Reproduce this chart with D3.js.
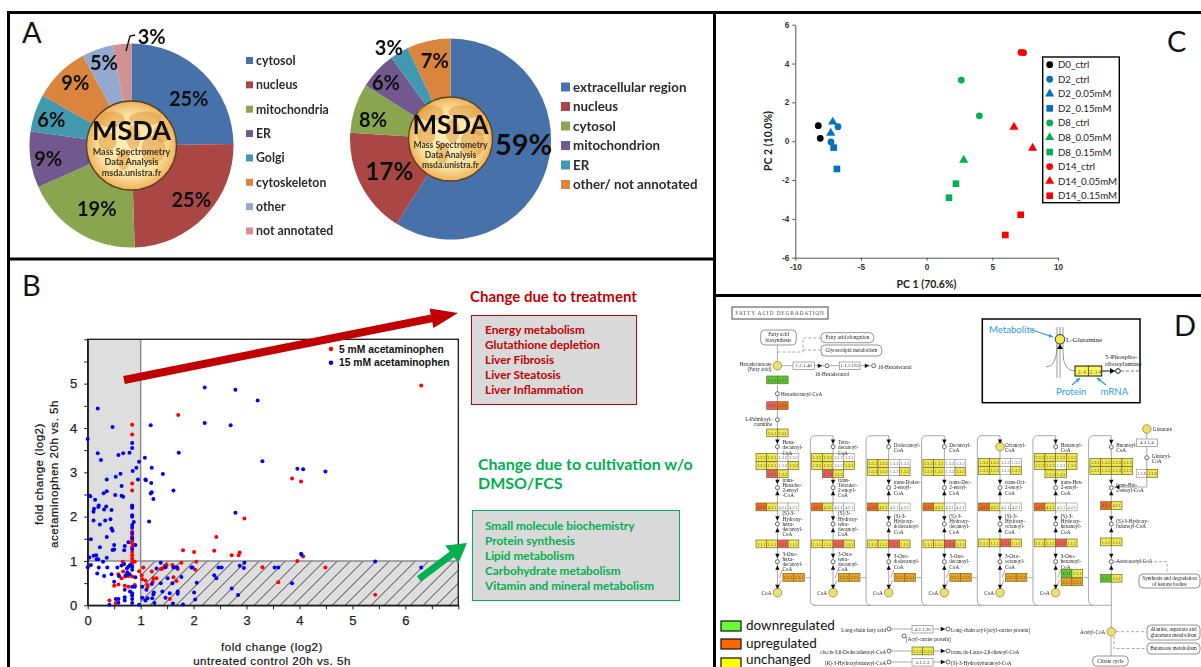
<!DOCTYPE html>
<html><head><meta charset="utf-8">
<script src="https://cdnjs.cloudflare.com/ajax/libs/d3/7.8.5/d3.min.js"></script>
<style>
html,body{margin:0;padding:0;background:#fff}
svg{display:block}
text{font-family:Lato,"Open Sans",sans-serif}
.ax text{font-family:"Liberation Sans",Arial,sans-serif}
.serif text{font-family:"Liberation Serif",serif}
</style></head><body>
<svg id="c" width="1201" height="667" viewBox="0 0 1201 667"></svg>
<script>
// ---------- DATA ----------
const pieACategories=["cytosol","nucleus","mitochondria","ER","Golgi","cytoskeleton","other","not annotated"];
const pieAValues=[25,25,19,9,6,9,5,3];
const pieAColors=["#4672A9","#AA4644","#89A54E","#71588F","#4298AF","#DB843D","#93A9CF","#D19392"];
const pieBCategories=["extracellular region","nucleus","cytosol","mitochondrion","ER","other/ not annotated"];
const pieBValues=[59,17,8,6,3,7];
const pieBColors=["#4672A9","#AA4644","#89A54E","#71588F","#4298AF","#DB843D"];

const scatterRed=[[6.30,4.96],[1.71,4.29],[.84,4.07],[.84,3.85],[.84,2.75],[.84,2.59],[.84,2.22],[3.86,2.86],[4.03,2.79],[2.96,1.96],[2.43,1.54],[1.80,1.24],[2.01,1.20],[2.39,1.23],[2.72,1.13],[2.85,1.13],[2.87,1.19],[4.07,1.10],[3.96,1.0],[4.49,.85],[3.60,.52],[5.43,.24],[3.30,.86],[2.03,.80],[2.05,.98],[1.77,.96],[1.70,.82],[1.68,.55],[1.62,.63],[1.60,.91],[1.55,.14],[1.49,.91],[1.46,.89],[1.38,.82],[1.41,.83],[1.21,.76],[1.24,.61],[1.30,.61],[1.23,.53],[1.05,.85],[.97,.77],[1.02,.68],[1.03,.59],[1.09,.56],[1.13,.46],[1.13,.42],[.89,.98],[.66,.98],[.84,1.66],[.84,1.55],[.84,1.46],[.84,1.40],[.84,1.32],[.84,1.2],[.84,1.13],[.84,1.05],[.84,.97],[.84,.9],[.58,.70],[.50,.44],[.58,.47],[.41,.11],[.53,.05],[.64,.61],[.67,.76],[.71,.65],[.77,.66],[.70,.44],[.77,.42],[.84,.65],[.89,.46]];
const scatterBlue=[[2.21,4.91],[2.79,4.86],[3.21,4.62],[2.21,4.11],[2.70,4.06],[1.19,4.06],[.19,4.44],[.47,4.02],[0,3.75],[.84,3.66],[.84,3.55],[.19,3.43],[.25,3.28],[.58,3.39],[.67,3.43],[.79,3.44],[.97,3.24],[1.08,3.33],[1.72,3.44],[3.30,3.25],[3.96,3.08],[4.07,3.07],[4.49,3.02],[.92,3.10],[1.21,3.10],[1.42,2.96],[.85,3.03],[.62,2.97],[.53,2.90],[.36,2.84],[.95,2.84],[1.09,2.84],[1.10,2.82],[1.20,2.76],[.64,2.69],[1.62,2.59],[1.21,2.55],[1.19,2.52],[1.24,2.40],[.30,2.53],[.36,2.57],[.03,2.47],[.05,2.46],[.52,2.49],[.64,2.47],[.67,2.45],[.14,2.38],[.21,2.25],[.2,2.22],[.12,2.18],[.11,2.11],[.35,2.23],[.31,2.16],[.45,2.15],[.84,2.25],[.84,2.20],[.84,2.03],[.84,2.0],[2.79,2.09],[.11,1.91],[.33,1.91],[.43,1.94],[.23,1.82],[.87,1.88],[1.16,1.89],[.84,1.81],[.84,1.75],[.45,1.73],[.47,1.68],[.84,1.62],[.84,1.51],[.36,1.54],[.06,1.49],[.77,1.42],[.50,1.36],[.70,1.34],[.90,1.36],[.23,1.31],[.47,1.25],[.50,1.26],[.69,1.24],[.84,1.27],[.03,1.08],[.11,1.12],[.16,1.13],[.36,1.07],[.17,1.04],[.2,1.04],[.29,.98],[5.43,.99],[4.03,1.16],[4.04,1.14],[6.30,.85],[1.38,.96],[2.96,.96],[2.87,.89],[2.95,.84],[2.47,.85],[2.53,.85],[1.96,.85],[1.98,.85],[3.53,.85],[3.60,.85],[2.39,.68],[2.43,.61],[2.72,.38],[2.84,.23],[3.86,.50],[2.06,.51],[2.01,.29],[2.03,.13],[1.62,.85],[1.69,.85],[1.65,.86],[1.30,.83],[1.47,.86],[1.77,.64],[1.51,.61],[1.60,.50],[1.38,.50],[1.21,.48],[1.03,.42],[1.11,.35],[1.41,.31],[1.25,.29],[1.24,.25],[1.70,.31],[1.70,.26],[1.47,.17],[1.55,.27],[1.22,.16],[1.13,.16],[1.09,.11],[1.03,.17],[1.26,.05],[1.61,.04],[1.80,.02],[.97,.01],[0,.86],[.06,.91],[.21,.85],[.37,.85],[.56,.85],[.64,.90],[.18,.72],[.31,.66],[.45,.70],[.5,.53],[.59,.66],[.69,.93],[.74,.83],[.77,.87],[.80,.91],[.75,.74],[.79,.70],[.72,.68],[.84,.87],[.84,.80],[.90,.63],[.70,.35],[.80,.31],[.84,.27],[.84,.42],[.89,.42],[.84,.22],[.84,.14],[.70,.18],[.70,.11],[.84,.05],[.53,.14],[.58,.14],[.58,.06],[.41,.01]];
const scatterLegend=["5 mM acetaminophen","15 mM acetaminophen"];
const treatmentTerms=["Energy metabolism","Glutathione depletion","Liver Fibrosis","Liver Steatosis","Liver Inflammation"];
const cultivationTerms=["Small molecule biochemistry","Protein synthesis","Lipid metabolism","Carbohydrate metabolism","Vitamin and mineral metabolism"];

const pcaGroups=["D0_ctrl","D2_ctrl","D2_0.05mM","D2_0.15mM","D8_ctrl","D8_0.05mM","D8_0.15mM","D14_ctrl","D14_0.05mM","D14_0.15mM"];
const pcaShapes=["circle","circle","triangle","square","circle","triangle","square","circle","triangle","square"];
const pcaColors=["#000000","#0070C0","#0070C0","#0070C0","#00B050","#00B050","#00B050","#FF0000","#FF0000","#FF0000"];
const pcaPoints=[[[-8.25,.80],[-8.1,.15]],[[-6.75,.75],[-7.28,-.04]],[[-7.15,.99],[-7.3,.42]],[[-7.08,-.33],[-6.83,-1.43]],[[2.64,3.15],[4.01,1.31]],[[2.82,-.97]],[[2.23,-2.19],[1.70,-2.91]],[[7.18,4.57],[7.38,4.56]],[[6.65,.73],[8.07,-.35]],[[7.16,-3.79],[5.99,-4.83]]];

// KEGG pathway: cell state per enzyme box, y=unchanged w=no data r=up(red) o=up(orange) a=amber g=down
const keggOxidase=[["yyww","yywy","ry"],["yyww","yywy","ry"],["yyww","yywy"],["yyww","yywy"],["yyww","yywy"],["yyyy","yywy","yy"],["yyyy","yyyy"]];
const keggHydratase=["oyww","oyww","oyww","oyww","oyww","oyww","oy"];
const keggDehydrogenase=["yyry","yyry","yyry","yyry","yyry","yyry","yy"];
const keggThiolase=[["aa"],["aa"],["aa"],["aa"],["aa"],["gy","aa"],["gy"]];
const keggCoaNames=[["Hexa-","decanoyl-","CoA"],["Tetra-","decanoyl-","CoA"],["Dodecanoyl-","CoA"],["Decanoyl-","CoA"],["Octanoyl-","CoA"],["Hexanoyl-","CoA"],["Butanoyl-","CoA"]];
const keggEnoylNames=[["trans-","Hexadec-","2-enoyl","-CoA"],["trans-","Tetradec-","2-enoyl-","CoA"],["trans-Dodec-","2-enoyl-","CoA"],["trans-Dec-","2-enoyl-","CoA"],["trans-Oct-","2-enoyl-","CoA"],["trans-Hex-","2-enoyl-","CoA"],["trans-But-","2-enoyl-CoA"]];
const keggHydroxyNames=[["(S)-3-","Hydroxy-","hexa-","decanoyl-","CoA"],["(S)-3-","Hydroxy-","tetra-","decanoyl-","CoA"],["(S)-3-","Hydroxy-","dodecanoyl-","CoA"],["(S)-3-","Hydroxy-","decanoyl-","CoA"],["(S)-3-","Hydroxy-","octanoyl-","CoA"],["(S)-3-","Hydroxy-","hexanoyl-","CoA"],["(S)-3-Hydroxy-","butanoyl-CoA"]];
const keggOxoNames=[["3-Oxo-","hexa-","decanoyl-","CoA"],["3-Oxo-","tetra-","decanoyl-","CoA"],["3-Oxo-","dodecanoyl-","CoA"],["3-Oxo-","decanoyl-","CoA"],["3-Oxo-","octanoyl-","CoA"],["3-Oxo-","hexanoyl-","CoA"],["Acetoacetyl-CoA"]];
const keggLegend=["downregulated","upregulated","unchanged"];
const keggLegendColors=["#66FF33","#FF6600","#FFFF00"];

// ---------- SETUP ----------
const svg=d3.select("#c");
const defs=svg.append("defs");
defs.append("filter").attr("id","soft").append("feGaussianBlur").attr("stdDeviation",.45);
defs.append("filter").attr("id","soft2").append("feGaussianBlur").attr("stdDeviation",.3);
const rg=defs.append("radialGradient").attr("id","logoFill");
rg.append("stop").attr("offset","0%").attr("stop-color","#FEEEBE");
rg.append("stop").attr("offset","70%").attr("stop-color","#FCE2A0");
rg.append("stop").attr("offset","100%").attr("stop-color","#EDB259");
const hatch=defs.append("pattern").attr("id","hatch").attr("patternUnits","userSpaceOnUse").attr("width",9.2).attr("height",9.2).attr("patternTransform","rotate(45)");
hatch.append("rect").attr("width",9.2).attr("height",9.2).attr("fill","#DEDEDE");
hatch.append("line").attr("x1",0).attr("x2",0).attr("y1",0).attr("y2",9.2).attr("stroke","#222").attr("stroke-width",1.3);

// panel frames
const frame=[[7,12.5,1201,12.5],[8.5,12,8.5,667],[8,259,714,259],[714.5,12,714.5,667],[714,295.5,1201,295.5]];
svg.append("g").selectAll("line").data(frame).join("line")
 .attr("x1",d=>d[0]).attr("y1",d=>d[1]).attr("x2",d=>d[2]).attr("y2",d=>d[3]).attr("stroke","#000").attr("stroke-width",3);
const panelLetters=[["A",22,43],["B",22,296],["C",1167,52],["D",1174,336]];
svg.append("g").selectAll("text").data(panelLetters).join("text").text(d=>d[0]).attr("x",d=>d[1]).attr("y",d=>d[2]).attr("font-size",29).attr("fill","#111");

// ---------- A: PIES ----------
function drawPie(cfg){
 const g=svg.append("g").attr("transform",`translate(${cfg.cx},${cfg.cy})`).attr("filter","url(#soft2)");
 const slices=d3.pie().sort(null)(cfg.values);
 const arc=d3.arc().innerRadius(0).outerRadius(cfg.r);
 const labelArc=d3.arc().innerRadius(cfg.lr).outerRadius(cfg.lr);
 g.selectAll("path").data(slices).join("path").attr("d",arc).attr("fill",(d,i)=>cfg.colors[i]);
 // logo
 const lg=g.append("g");
 lg.append("ellipse").attr("rx",cfg.lrx).attr("ry",cfg.lry).attr("fill","url(#logoFill)").attr("stroke","#5b4020").attr("stroke-width",1.3);
 const blobs=[[-20,-26,13,8],[14,-27,16,7],[-24,-4,9,9],[22,4,12,14],[-8,14,6,11],[2,-8,7,12],[30,-12,8,9]];
 lg.selectAll("ellipse.b").data(blobs).join("ellipse").attr("class","b")
   .attr("cx",d=>d[0]).attr("cy",d=>d[1]).attr("rx",d=>d[2]).attr("ry",d=>d[3]).attr("fill","#DD9436").attr("opacity",.5);
 lg.append("text").text("MSDA").attr("text-anchor","middle").attr("y",cfg.ty[0]).attr("font-size",cfg.fs).attr("font-weight",700).attr("fill","#0a0a0a");
 [["Mass Spectrometry",cfg.ty[1]],["Data Analysis",cfg.ty[2]],["msda.unistra.fr",cfg.ty[3]]].forEach(t=>
   lg.append("text").text(t[0]).attr("text-anchor","middle").attr("y",t[1]).attr("font-size",cfg.sub).attr("font-weight",700).attr("fill","#3b3426"));
 g.selectAll("text.l").data(slices).join("text").attr("class","l")
  .text(d=>d.data+"%").attr("text-anchor","middle").attr("dominant-baseline","central")
  .attr("x",(d,i)=>labelArc.centroid(d)[0]+cfg.nudge[i][0]).attr("y",(d,i)=>labelArc.centroid(d)[1]+cfg.nudge[i][1])
  .attr("font-size",(d,i)=>cfg.labelFs[i]).attr("font-weight",700).attr("fill","#111");
 return g;
}
drawPie({cx:131.5,cy:145.5,r:102,lr:73,values:pieAValues,colors:pieAColors,lrx:45,lry:44.5,ty:[-6,9.5,19,30],fs:27,sub:9,
 nudge:[[6,5],[7,3],[4,1],[-11,2],[-11,-3],[-5,-11],[-3,-15],[27,-37]],labelFs:[20,20,20,20,20,20,20,20]});
drawPie({cx:450.5,cy:139,r:100.5,lr:72,values:pieBValues,colors:pieBColors,lrx:42,lry:42,ty:[-5.5,9,18.5,28.5],fs:26,sub:8.6,
 nudge:[[4,-16],[3,-1],[-9,2],[-12,-8],[-25,-30],[0,-9]],labelFs:[29,24,20,20,20,20]});
// leader for 3%
svg.append("path").attr("d","M126,51 L130,36 L135,35").attr("fill","none").attr("stroke","#111").attr("stroke-width",1.4);

function pieLegend(cats,cols,x,ys,size,tx,fs){
 const g=svg.append("g").attr("filter","url(#soft2)");
 g.selectAll("rect").data(cats).join("rect").attr("x",x).attr("y",(d,i)=>ys(i)-size/2).attr("width",size).attr("height",size).attr("fill",(d,i)=>cols[i]);
 g.selectAll("text").data(cats).join("text").text(d=>d).attr("x",tx).attr("y",(d,i)=>ys(i)+fs*.35).attr("font-size",fs).attr("font-weight",700).attr("fill","#2b2b2b");
}
pieLegend(pieACategories,pieAColors,246,d3.scaleLinear().domain([0,7]).range([60.5,231]),7,256,12.3);
pieLegend(pieBCategories,pieBColors,561,d3.scaleLinear().domain([0,5]).range([87,184.5]),9,573,13.3);

// ---------- B: SCATTER ----------
const bx=d3.scaleLinear().domain([0,7]).range([87.7,458.3]);
const by=d3.scaleLinear().domain([0,6]).range([605.3,339.3]);
const B=svg.append("g");
B.append("rect").attr("x",bx(0)).attr("y",by(6)).attr("width",bx(1)-bx(0)).attr("height",by(1)-by(6)).attr("fill","#DEDEDE");
B.append("rect").attr("x",bx(1)).attr("y",by(1)).attr("width",bx(7)-bx(1)).attr("height",by(0)-by(1)).attr("fill","url(#hatch)");
B.append("line").attr("x1",bx(1)).attr("x2",bx(1)).attr("y1",by(6)).attr("y2",by(1)).attr("stroke","#8a8a8a").attr("stroke-width",1.4);
B.append("line").attr("x1",bx(1)).attr("x2",bx(1)).attr("y1",by(1)).attr("y2",by(0)).attr("stroke","#8a8a8a").attr("stroke-width",1.4);
B.append("line").attr("x1",bx(0)).attr("x2",bx(7)).attr("y1",by(1)).attr("y2",by(1)).attr("stroke","#8a8a8a").attr("stroke-width",1.4);
B.append("rect").attr("x",bx(0)).attr("y",by(6)).attr("width",bx(7)-bx(0)).attr("height",by(0)-by(6)).attr("fill","none").attr("stroke","#1a1a1a").attr("stroke-width",1.3);
const xAxisB=d3.axisBottom(bx).tickValues(d3.range(0,7.5,.5)).tickSize(4).tickSizeOuter(0).tickPadding(6).tickFormat(d=>Number.isInteger(d)&&d<7?d:"");
const yAxisB=d3.axisLeft(by).tickValues(d3.range(0,6.5,.5)).tickSize(3.5).tickSizeOuter(0).tickPadding(7).tickFormat(d=>Number.isInteger(d)&&d<6?d:"");
const axB=B.append("g").attr("class","ax");
axB.append("g").attr("transform",`translate(0,${by(0)})`).call(xAxisB);
axB.append("g").attr("transform",`translate(${bx(0)},0)`).call(yAxisB);
axB.selectAll(".domain").attr("stroke","#1a1a1a").attr("stroke-width",1.3);
axB.selectAll(".tick line").attr("stroke","#1a1a1a").attr("stroke-width",1);
axB.selectAll(".tick text").attr("font-size",13).attr("fill","#222").attr("stroke","#222").attr("stroke-width",.25);
B.append("g").selectAll("circle").data(scatterRed).join("circle").attr("cx",d=>bx(d[0])).attr("cy",d=>by(d[1])).attr("r",2).attr("fill","#FF0000");
B.append("g").selectAll("circle").data(scatterBlue).join("circle").attr("cx",d=>bx(d[0])).attr("cy",d=>by(d[1])).attr("r",2).attr("fill","#0000EE");
const axisText=(t,x,y,r)=>B.append("text").text(t).attr("text-anchor","middle").attr("transform",`translate(${x},${y})${r?" rotate(-90)":""}`)
  .attr("font-size",11.6).attr("letter-spacing",.5).attr("fill","#111").attr("stroke","#111").attr("stroke-width",.2).style("font-family","'Liberation Sans',Arial,sans-serif");
axisText("fold change (log2)",272,651);axisText("untreated control 20h vs. 5h",272,665);
axisText("fold change (log2)",43,474,true);axisText("acetaminophen 20h vs. 5h",58,474,true);
[[349,"#FF0000"],[362.7,"#0000EE"]].forEach((d,i)=>{
 B.append("circle").attr("cx",331).attr("cy",d[0]).attr("r",2.3).attr("fill",d[1]);
 B.append("text").text(scatterLegend[i]).attr("x",339).attr("y",d[0]+3.5).attr("font-size",10.3).attr("font-weight",700).attr("fill","#111").style("font-family","'Liberation Sans',Arial,sans-serif");
});
function blockArrow(x0,y0,x1,y1,w,hw,hl,color){
 const a=Math.atan2(y1-y0,x1-x0),c=Math.cos(a),s=Math.sin(a);
 const L=Math.hypot(x1-x0,y1-y0)-hl;
 const P=(u,v)=>[x0+c*u-s*v,y0+s*u+c*v];
 const pts=[P(0,-w/2),P(L,-w/2),P(L,-hw/2),P(L+hl,0),P(L,hw/2),P(L,w/2),P(0,w/2)];
 svg.append("polygon").attr("points",pts.map(p=>p.join(",")).join(" ")).attr("fill",color);
}
blockArrow(124,380,458,313,8,20,27,"#C00000");
blockArrow(419,579,467,543,7,22,19,"#00B050");
svg.append("text").text("Change due to treatment").attr("x",470).attr("y",302).attr("font-size",15).attr("font-weight",700).attr("fill","#C00000");
svg.append("g").selectAll("text").data(["Change due to cultivation w/o","DMSO/FCS"]).join("text").text(d=>d).attr("x",478).attr("y",(d,i)=>470+i*19).attr("font-size",16).attr("font-weight",700).attr("fill","#00B050");
function termBox(x,y,w,h,color,terms,y0,step){
 svg.append("rect").attr("x",x).attr("y",y).attr("width",w).attr("height",h).attr("fill","#D9D9D9").attr("stroke",color);
 svg.append("g").selectAll("text").data(terms).join("text").text(d=>d).attr("x",485).attr("y",(d,i)=>y0+i*step).attr("font-size",11.8).attr("font-weight",700).attr("fill",color);
}
termBox(471.5,315.5,165,89,"#C00000",treatmentTerms,334,15);
termBox(472.5,510.5,207,90,"#00B050",cultivationTerms,529.5,15);

// ---------- C: PCA ----------
const cx=d3.scaleLinear().domain([-10,10]).range([795.3,1058]);
const cy=d3.scaleLinear().domain([-6,6]).range([257.7,24.7]);
const C=svg.append("g");
const axC=C.append("g").attr("class","ax");
axC.append("g").attr("transform",`translate(0,${cy(-6)})`).call(d3.axisBottom(cx).tickValues(d3.range(-10,11,5)).tickSize(3).tickSizeOuter(0).tickPadding(3).tickFormat(String));
axC.append("g").attr("transform",`translate(${cx(-10)},0)`).call(d3.axisLeft(cy).tickValues(d3.range(-6,7,2)).tickSize(3).tickSizeOuter(0).tickPadding(3).tickFormat(String));
axC.selectAll(".domain,.tick line").attr("stroke","#555").attr("stroke-width",1);
axC.selectAll(".tick text").attr("font-size",8.2).attr("font-weight",700).attr("fill","#333");
const sym={circle:d3.symbolCircle,triangle:d3.symbolTriangle,square:d3.symbolSquare};
const symSize={circle:36,triangle:36,square:44};
const symPath=s=>d3.symbol().type(sym[s]).size(symSize[s])();
pcaGroups.forEach((g,i)=>{
 C.append("g").selectAll("path").data(pcaPoints[i]).join("path").attr("d",symPath(pcaShapes[i]))
  .attr("transform",d=>`translate(${cx(d[0])},${cy(d[1])})`).attr("fill",pcaColors[i]);
});
C.append("rect").attr("x",1042.7).attr("y",57).attr("width",76.6).attr("height",145.7).attr("fill","#fff").attr("stroke","#000").attr("stroke-width",1.4);
const legY=d3.scaleLinear().domain([0,9]).range([64.7,195.7]);
C.selectAll("path.k").data(pcaGroups).join("path").attr("class","k").attr("d",(d,i)=>symPath(pcaShapes[i])).attr("transform",(d,i)=>`translate(1049.7,${legY(i)})`).attr("fill",(d,i)=>pcaColors[i]);
C.selectAll("text.k").data(pcaGroups).join("text").attr("class","k").text(d=>d).attr("x",1058).attr("y",(d,i)=>legY(i)+3.5).attr("font-size",9.7).attr("fill","#222");
C.append("text").text("PC 1 (70.6%)").attr("x",926.5).attr("y",288).attr("text-anchor","middle").attr("font-size",10.5).attr("font-weight",700).attr("fill","#222");
C.append("text").text("PC 2 (10.0%)").attr("transform","translate(772,141) rotate(-90)").attr("text-anchor","middle").attr("font-size",10.5).attr("font-weight",700).attr("fill","#222");

// ---------- D: KEGG ----------
const D=svg.append("g").attr("class","serif");
D.append("rect").attr("x",732).attr("y",307).attr("width",96).attr("height",12).attr("fill","#fff").attr("stroke","#666").attr("stroke-width",1.2);
const K=D.append("g").attr("filter","url(#soft)");
const spine=d3.scaleLinear().domain([0,6]).range([777.4,1111.3]);
const LINE="#a8a8a8";
const stateFill={y:"#F2E84E",w:"#ffffff",r:"#EE5A5A",o:"#EE6A22",a:"#EBA020",g:"#55C832"};
const CW=10.7,CH=7.8;
function line(d,dash){K.append("path").attr("d",d).attr("fill","none").attr("stroke",LINE).attr("stroke-width",1).attr("stroke-dasharray",dash||null);}
function cells(x0,y,str,ec){
 [...str].forEach((c,i)=>{
  K.append("rect").attr("x",x0+i*CW).attr("y",y).attr("width",CW).attr("height",CH).attr("fill",stateFill[c]).attr("stroke",c==="w"?"#999":"#6b6b30").attr("stroke-width",.7);
  K.append("text").text(ec).attr("x",x0+i*CW+CW/2).attr("y",y+5.6).attr("text-anchor","middle").attr("font-size",4.2).attr("fill","#554");
 });
}
function node(x,y,filled){K.append("circle").attr("cx",x).attr("cy",y).attr("r",filled?4.3:2).attr("fill",filled?"#EEDF66":"#fff").attr("stroke",filled?"#8a8a5a":"#444").attr("stroke-width",.8);}
function labels(x,y,arr,anchor){
 K.append("g").selectAll("text").data(arr).join("text").text(d=>d).attr("x",x).attr("y",(d,i)=>y+(i-(arr.length-1)/2)*5.2+1.7).attr("font-size",5.2).attr("text-anchor",anchor||"start").attr("fill","#222");
}
function pill(x,y,w,h,lines){
 K.append("rect").attr("x",x).attr("y",y).attr("width",w).attr("height",h).attr("rx",4).attr("fill","#fff").attr("stroke","#777").attr("stroke-width",.8);
 K.append("g").selectAll("text").data(lines).join("text").text(d=>d).attr("x",x+w/2).attr("y",(d,i)=>y+h/2+(i-(lines.length-1)/2)*5.6+1.7).attr("text-anchor","middle").attr("font-size",5.2).attr("fill","#222");
}
function ecBox(x,y,w,t,fill){
 K.append("rect").attr("x",x).attr("y",y).attr("width",w).attr("height",7.5).attr("fill",fill||"#fff").attr("stroke","#888").attr("stroke-width",.7);
 K.append("text").text(t).attr("x",x+w/2).attr("y",y+5.4).attr("text-anchor","middle").attr("font-size",5).attr("fill","#333");
}
function arrowHead(x,y,dir){
 const s=2.2;const p=dir==="d"?[[x-s,y-s],[x+s,y-s],[x,y+s]]:dir==="u"?[[x-s,y+s],[x+s,y+s],[x,y-s]]:dir==="r"?[[x-s,y-s],[x-s,y+s],[x+s,y]]:[[x+s,y-s],[x+s,y+s],[x-s,y]];
 K.append("polygon").attr("points",p.map(q=>q.join(",")).join(" ")).attr("fill","#111");
}
// title
K.append("text").text("FATTY ACID DEGRADATION").attr("x",780).attr("y",315).attr("text-anchor","middle").attr("font-size",5.6).attr("letter-spacing",.75).attr("fill","#555");

const rowTop=[453.5,453.5,459.5,459.5,458.5,453.5,458.5];
const rowB=[503,503,503,503,503,503,501.7];
const rowC=[540,540,540,540,539,539,538];
const rowD=[573.5,573.5,573.5,573.5,573.5,569.5,574.3];
const nodeTop=[446.7,446.7,446.7,446.7,446.7,446.7,447];
// loops and spines
d3.range(7).forEach(i=>{
 const x=spine(i);
 line(`M${x},${i?436:385}L${x},${i===6?632:589}`);
 if(i>0){const L=x-22.7;line(`M${x},435.7L${L+5},435.7Q${L},435.7 ${L},441L${L},600Q${L},605.3 ${L+5},605.3`);}
 if(i<6){const L=spine(i+1)-22.7;line(`M${x+5},570L${x+2},577.7M${x+28},577.7L${L},577.7`);line(`M${x},589L${x+4},580`);}
});
line(`M${spine(1)-20},605.3L${spine(6)},605.3`);
// columns
d3.range(7).forEach(i=>{
 const x=spine(i);
 const top=keggOxidase[i];
 top.forEach((r,j)=>{
  const y=rowTop[i]+j*8.2;
  const x0=r.length===2?x-10.7:x-21.4;
  cells(x0,y,r,"1.3.3");
 });
 cells(keggHydratase[i].length===2?x-10.7:x-21.4,rowB[i],keggHydratase[i],"4.2.1");
 cells(keggDehydrogenase[i].length===2?x-10.7:x-21.4,rowC[i],keggDehydrogenase[i],"1.1.1");
 const th=keggThiolase[i];
 th.forEach((r,j)=>cells(i===6?x-10.7:x+5.5,rowD[i]+j*8.4,r,"2.3.1"));
 node(x,nodeTop[i],i===4); labels(x+5,nodeTop[i]+1,keggCoaNames[i]);
 arrowHead(x,nodeTop[i]-5,"d");
 node(x,487.7); labels(x+5,487.7,keggEnoylNames[i]); arrowHead(x,482,"d");arrowHead(x,493,"u");
 node(x,524); labels(x+5,524,keggHydroxyNames[i]); arrowHead(x,518.5,"d");arrowHead(x,530,"u");
 node(x,561.7); labels(x+5,561.7,keggOxoNames[i]); arrowHead(x,556,"d");arrowHead(x,567.5,"u");
 if(i<6){ node(x,592.7,true); K.append("text").text("CoA").attr("x",x-6).attr("y",594.5).attr("text-anchor","end").attr("font-size",5.2).attr("fill","#222"); arrowHead(x,587,"d");}
});
// leading steps of first column
const x0=spine(0);
cells(x0-10.7,376,"gg","6.2.1");
cells(x0-10.7,401.7,"ro","2.3.1");
cells(x0-10.7,429,"yy","2.3.1");
node(x0,365.7,true);node(x0,393.7);node(x0,419.7);
labels(771.5,367,["Hexadecanoate","(Fatty acid)"],"end");
labels(781,394.5,["Hexadecanoyl-CoA"]);
labels(772,421.5,["L-Palmitoyl-","carnitine"],"end");
pill(760.7,330,35.5,15,["Fatty acid","biosynthesis"]);
pill(821,332.7,52.7,10,["Fatty acid elongation"]);
pill(821,345,60.7,11,["Glycerolipid metabolism"]);
line(`M${x0},345L${x0},362`);
line(`M${x0},352L803,352L803,338L821,338`,"3 2");
line(`M803,350L821,350`,"3 2");
ecBox(793,362,21.3,"1.2.1.48");
line(`M782,365.7L793,365.7M814,365.7L824,365.7M830,365.7L839,365.7M860,365.7L871,365.7`);
arrowHead(820,365.7,"r");arrowHead(867,365.7,"r");
node(827,365.7);ecBox(839.3,362,20.7,"1.1.1.192");node(873.7,365.7);
labels(878,367,["16-Hexadecanal"]);
labels(815,374.5,["16-Hexadecanol"]);
// glutarate branch
const gx=spine(6)+35.5;
line(`M${gx},433L${gx},487L${spine(6)+3},487`);
node(gx,429,true);labels(gx+6,429,["Glutarate"]);
ecBox(gx-10.5,439,21,"4.3.1.4");
node(gx,457.7);labels(gx+5,459,["Glutaryl-","CoA"]);
cells(gx-10.5,469.5,"wy","1.3.8");
arrowHead(spine(6)+6,487,"l");
// terminal
node(spine(6),631.7,true);
labels(spine(6)-6,632.5,["Acetyl-CoA"],"end");
pill(1139,574,61,14,["Synthesis and degradation","of ketone bodies"]);
line(`M1114,561.7L1167,561.7L1167,574`,"3 2");
pill(1147,625,53,15,["Alanine, aspartate and","glutamate metabolism"]);
pill(1147,643,53,11,["Butanoate metabolism"]);
pill(1092.7,656,35.5,10,["Citrate cycle"]);
line(`M1116,631.7L1147,631.7`,"3 2");
line(`M1114,636L1114,648.5L1147,648.5`,"3 2");
line(`M1111,636L1111,656`);
// bottom row
labels(886,630,["Long-chain fatty acid"],"end");node(889,629);
ecBox(912,625.5,21,"4.2.1.20");
line(`M891,629L912,629M933,629L946,629`);arrowHead(943,629,"r");node(948,629);
labels(951,630.5,["Long-chain acyl-[acyl-carrier protein]"]);
labels(906,639.5,["[Acyl-carrier protein]"]);node(904,636);
labels(886,652,["cis,cis-3,6-Dodecadienoyl-CoA"],"end");node(889,651);
cells(912,647,"yy","5.3.3");
line(`M891,651L912,651M933,651L946,651`);node(948,651);arrowHead(943,651,"r");
labels(951,652.5,["trans,cis-Lauro-2,6-dienoyl-CoA"]);
labels(886,663,["(R)-3-Hydroxybutanoyl-CoA"],"end");node(889,662);
ecBox(912,658.5,21,"5.1.2.3");
line(`M891,662L912,662M933,662L946,662`);node(948,662);arrowHead(943,662,"r");
labels(951,663.5,["(S)-3-Hydroxybutanoyl-CoA"]);

// inset
const IN=D.append("g");
IN.append("rect").attr("x",982.3).attr("y",319).attr("width",157.7).attr("height",83.7).attr("fill","#fff").attr("stroke","#000").attr("stroke-width",1.5);
[1057,1060,1063].forEach((x,i)=>IN.append("line").attr("x1",x).attr("x2",x).attr("y1",327).attr("y2",i===1?378:(i===0?378:352)).attr("stroke","#999").attr("stroke-width",1));
IN.append("path").attr("d","M1063,352Q1063,371 1075,371M1057,345Q1057,367 1046,367").attr("fill","none").attr("stroke","#999");
IN.append("circle").attr("cx",1060).attr("cy",339.3).attr("r",4.8).attr("fill","#F2E84E").attr("stroke","#333");
IN.append("polygon").attr("points","1057,349 1063,349 1060,344").attr("fill","#111");
IN.append("text").text("L-Glutamine").attr("x",1066).attr("y",342).attr("font-size",7).attr("fill","#222");
IN.append("text").text("5-Phospho-").attr("x",1105).attr("y",359).attr("font-size",7).attr("fill","#222");
IN.append("text").text("ribosylamine").attr("x",1105).attr("y",365.5).attr("font-size",7).attr("fill","#222");
IN.append("rect").attr("x",1075).attr("y",366).attr("width",26.7).attr("height",10).attr("fill","#FFF65A").attr("stroke","#111").attr("stroke-width",1);
IN.append("line").attr("x1",1088.4).attr("x2",1088.4).attr("y1",366).attr("y2",376).attr("stroke","#111").attr("stroke-width",.7);
IN.append("text").text("2.4").attr("x",1081.7).attr("y",374).attr("text-anchor","middle").attr("font-size",7).attr("fill","#776");
IN.append("text").text("2.14").attr("x",1095).attr("y",374).attr("text-anchor","middle").attr("font-size",7).attr("fill","#776");
IN.append("path").attr("d","M1102,371L1115,371").attr("stroke","#111");
IN.append("polygon").attr("points","1110,368 1110,374 1115,371").attr("fill","#111");
IN.append("circle").attr("cx",1118).attr("cy",371).attr("r",2.3).attr("fill","#fff").attr("stroke","#111");
IN.append("path").attr("d","M1121,371L1139,371").attr("stroke","#777").attr("stroke-dasharray","3 2");
const BL="#2D9BE3";
const bt=[["Metabolite",989,333],["Protein",1056,395],["mRNA",1100.5,395]];
IN.selectAll("text.bl").data(bt).join("text").attr("class","bl").text(d=>d[0]).attr("x",d=>d[1]).attr("y",d=>d[2]).attr("font-size",9.6).attr("fill",BL).style("font-family","Lato,sans-serif");
function blArrow(x0,y0,x1,y1){const a=Math.atan2(y1-y0,x1-x0),h=4.5;
 IN.append("line").attr("x1",x0).attr("y1",y0).attr("x2",x1).attr("y2",y1).attr("stroke",BL).attr("stroke-width",1.2);
 IN.append("polygon").attr("fill",BL).attr("points",[[x1,y1],[x1-h*Math.cos(a-.45),y1-h*Math.sin(a-.45)],[x1-h*Math.cos(a+.45),y1-h*Math.sin(a+.45)]].map(p=>p.join(",")).join(" "));}
blArrow(1032,330,1053,337);blArrow(1072,385,1080,378);blArrow(1106,385,1097,378);

// legend
const kLegY=[621,639,658];
const kLegText=[630,648,663.5];
svg.append("g").selectAll("rect").data(keggLegend).join("rect").attr("x",721).attr("y",(d,i)=>kLegY[i]).attr("width",20).attr("height",10).attr("fill",(d,i)=>keggLegendColors[i]).attr("stroke","#111").attr("stroke-width",1.2);
svg.append("g").selectAll("text").data(keggLegend).join("text").text(d=>d).attr("x",746).attr("y",(d,i)=>kLegText[i]).attr("font-size",13.5).attr("fill","#111");
</script>
</body></html>
